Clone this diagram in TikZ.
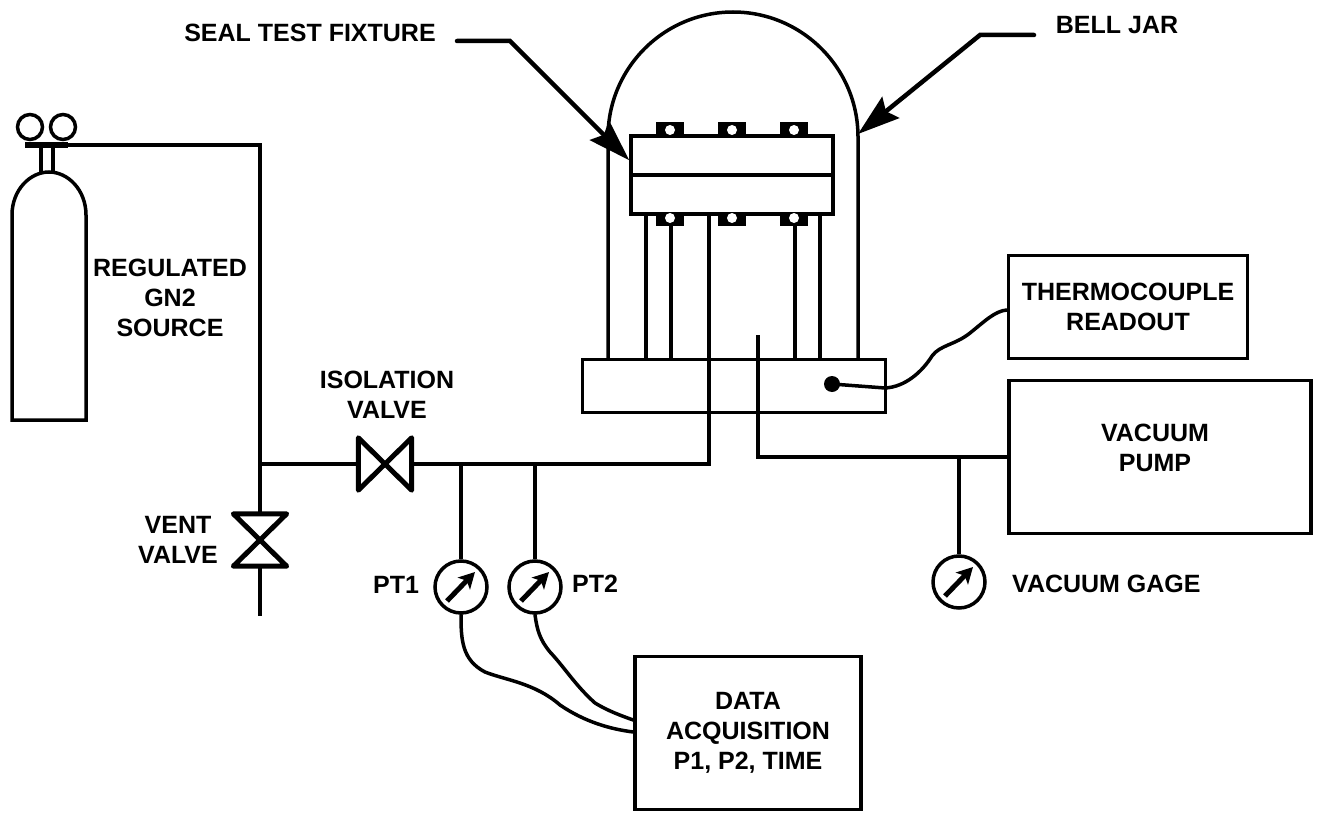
\documentclass[tikz,border=0pt]{standalone}
\usepackage{fontspec}
\setmainfont{Liberation Sans}
\usetikzlibrary{arrows.meta,calc}
\tikzset{
  ln/.style={line width=3.5pt,line join=miter},
  boxn/.style={ln,draw,rectangle,inner sep=0pt,align=center,font=\lbl},
  txt/.style={align=center,font=\lbl,inner sep=0pt,text depth=0pt},
  gaugen/.style={ln,draw,fill=white,circle,inner sep=0pt,minimum size=52pt},
  needle/.style={line width=5pt,-{Stealth[length=16pt,width=17pt,inset=4pt]}},
  ptr/.style={line width=4.5pt,line cap=round,-{Stealth[length=42pt,width=27pt,inset=6pt]}},
  valven/.style={inner sep=0pt,minimum width=53pt,minimum height=52pt},
  wire/.style={line width=3.5pt,line cap=round}
}
\newcommand{\lbl}{\fontsize{25}{30}\selectfont\bfseries}
\begin{document}
\begin{tikzpicture}[x=1pt,y=-1pt]
\useasboundingbox (0,0) rectangle (1319,813);
% boxes
\node[boxn,minimum width=202pt,minimum height=78pt] (fixture) at (732,175) {};
\node[boxn,minimum width=303pt,minimum height=53pt] (base) at (734,386) {};
\node[boxn,minimum width=239pt,minimum height=103pt] (thermo) at (1128,307) {THERMOCOUPLE\\READOUT};
\node[boxn,minimum width=302pt,minimum height=153pt] (pump) at (1160,457) {};
\node[boxn,minimum width=226pt,minimum height=153pt] (data) at (748,733) {DATA\\ACQUISITION\\P1, P2, TIME};
\node[txt] (pumpT) at (1155,448) {VACUUM\\PUMP};
\draw[ln] (fixture.west) -- (fixture.east);
% bell jar
\draw[ln] (608,0 |- base.north) -- (608,137) .. controls (608,68) and (664,12) .. (733,12)
  .. controls (802,12) and (858,68) .. (858,137) -- (858,0 |- base.north);
% bolts
\foreach \bx in {670,732,794}{
  \fill (\bx-14,122) rectangle (\bx+14,137);
  \fill[white] (\bx,130) circle (5pt);
  \fill (\bx-14,213) rectangle (\bx+14,226);
  \fill[white] (\bx,218) circle (5pt);
}
% rods
\draw[ln] (646,0 |- fixture.south) -- (646,0 |- base.north);
\draw[ln] (671,226) -- (671,0 |- base.north);
\draw[ln] (795,226) -- (795,0 |- base.north);
\draw[ln] (820,0 |- fixture.south) -- (820,0 |- base.north);
% cylinder
\draw[ln] (12,420) -- (12,215) .. controls (12,190) and (30,172) .. (49,172)
  .. controls (68,172) and (86,190) .. (86,215) -- (86,420) -- cycle;
\draw[ln] (41,172) -- (41,148);
\draw[ln] (53,172) -- (53,148);
\draw[ln] (30,127) circle (12.5pt);
\draw[ln] (63,127) circle (12.5pt);
\coordinate (regL) at (25,145);
\coordinate (regR) at (68,145);
\draw[line width=6pt] (regL) -- (regR);
% valves
\node[valven] (isoV) at (385,464) {};
\node[valven] (ventV) at (260,540) {};
\draw[line width=5pt,line join=round] (isoV.north west) -- (isoV.south east) -- (isoV.north east) -- (isoV.south west) -- cycle;
\draw[line width=5pt,line join=round] (ventV.north west) -- (ventV.south east) -- (ventV.south west) -- (ventV.north east) -- cycle;
% piping
\coordinate (ventEnd) at (260,616);
\coordinate (vacTop) at (758,335);
\draw[ln] (regR) -| (ventV.north);
\draw[ln] (ventV.south) -- (ventEnd);
\draw[ln] (isoV.west) -- (ventV.north |- isoV.west);
\draw[ln] (isoV.east) -| (709,0 |- fixture.south);
\draw[ln] (pump.west) -| (vacTop);
% gauges
\node[gaugen] (pt1) at (461,587) {};
\node[gaugen] (pt2) at (535,587) {};
\node[gaugen] (vacG) at (959,582) {};
\foreach \g in {pt1,pt2,vacG}{
  \draw[needle] ([shift={(-14,14)}]\g.center) -- ([shift={(14,-15)}]\g.center);
}
\draw[ln] (pt1.north) -- (pt1.north |- isoV.east);
\draw[ln] (pt2.north) -- (pt2.north |- isoV.east);
\draw[ln] (vacG.north) -- (vacG.north |- pump.west);
% wires
\coordinate (d1) at ($(data.west)+(0,-1)$);
\coordinate (d2) at ($(data.west)+(0,-13)$);
\draw[wire] (pt1.south) .. controls (461,640) and (462,660) .. (485,672)
  .. controls (505,680) and (535,683) .. (560,705) .. controls (585,722) and (610,729) .. (d1);
\draw[wire] (pt2.south) .. controls (537,630) and (540,640) .. (550,652)
  .. controls (565,668) and (575,685) .. (595,703) .. controls (608,711) and (622,716) .. (d2);
\node[circle,fill=black,inner sep=0pt,minimum size=16pt] (tc) at (832,384) {};
\draw[wire] (tc.center) -- (885,388) .. controls (905,387) and (922,372) .. (932,356)
  .. controls (940,345) and (955,345) .. (970,333) .. controls (985,321) and (995,311) .. (thermo.west |- 0,310);
% pointers
\node[txt] (seal) at (310,33) {SEAL TEST FIXTURE};
\node[txt] (bell) at (1117,25) {BELL JAR};
\coordinate (sealA) at (457,41);
\coordinate (sealB) at (510,41);
\coordinate (sealTip) at ($(fixture.north west)+(0,26)$);
\draw[ptr] (sealA) -- (sealB) -- (sealTip);
\coordinate (bellA) at (1034,35);
\coordinate (bellB) at (980,35);
\coordinate (bellTip) at (858,134);
\draw[ptr] (bellA) -- (bellB) -- (bellTip);
% labels
\node[txt] (regT) at (170,298) {REGULATED\\GN2\\SOURCE};
\node[txt] (isoT) at (387,395) {ISOLATION\\VALVE};
\node[txt] (ventT) at (178,540) {VENT\\VALVE};
\node[txt,anchor=west] (pt1T) at (373,585) {PT1};
\node[txt,anchor=west] (pt2T) at (572,584) {PT2};
\node[txt,anchor=west] (vacT) at (1012,584) {VACUUM GAGE};
\end{tikzpicture}
\end{document}
